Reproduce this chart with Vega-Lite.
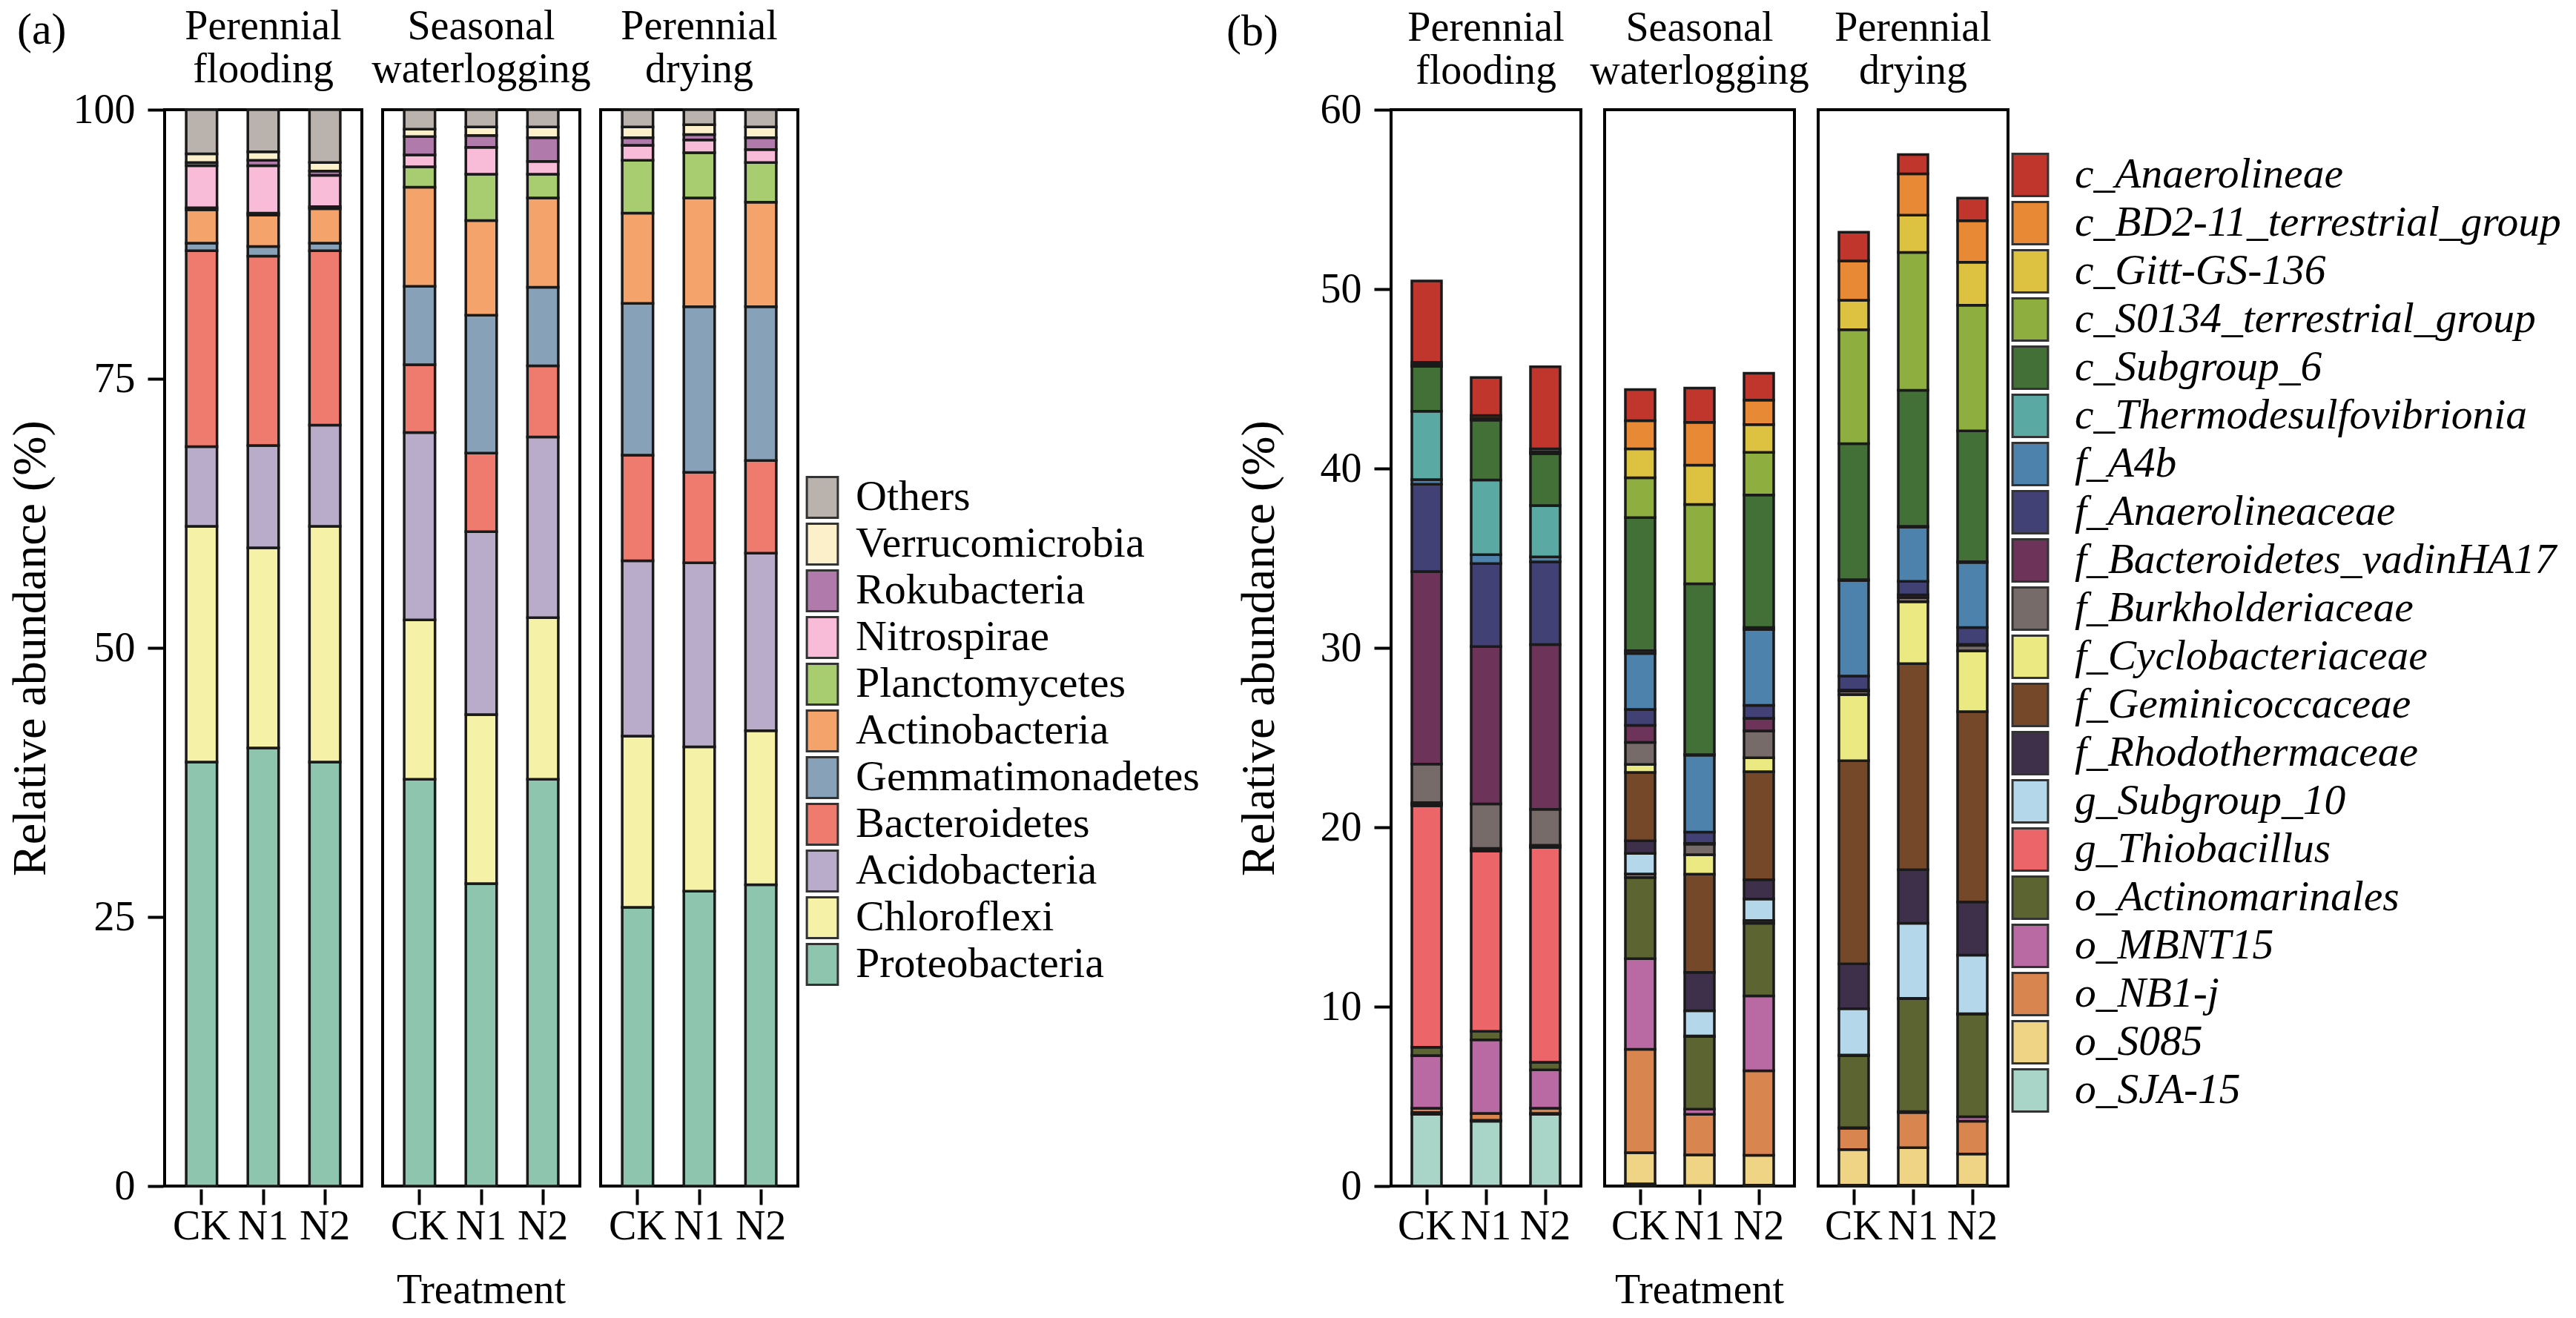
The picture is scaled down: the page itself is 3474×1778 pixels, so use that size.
{
  "$schema": "https://vega.github.io/schema/vega-lite/v6.json",
  "background": "white",
  "padding": {"left": 9, "top": 8, "right": 0, "bottom": 0},
  "datasets": {
    "phyla": [
      {"site": "Perennial flooding", "trt": "CK", "Proteobacteria": 39.4, "Chloroflexi": 21.9, "Acidobacteria": 7.4, "Bacteroidetes": 18.2, "Gemmatimonadetes": 0.7, "Actinobacteria": 3.1, "Planctomycetes": 0.2, "Nitrospirae": 3.9, "Rokubacteria": 0.3, "Verrucomicrobia": 0.8, "Others": 4.1},
      {"site": "Perennial flooding", "trt": "N1", "Proteobacteria": 40.7, "Chloroflexi": 18.6, "Acidobacteria": 9.5, "Bacteroidetes": 17.6, "Gemmatimonadetes": 0.9, "Actinobacteria": 2.9, "Planctomycetes": 0.2, "Nitrospirae": 4.4, "Rokubacteria": 0.5, "Verrucomicrobia": 0.8, "Others": 3.9},
      {"site": "Perennial flooding", "trt": "N2", "Proteobacteria": 39.4, "Chloroflexi": 21.9, "Acidobacteria": 9.4, "Bacteroidetes": 16.2, "Gemmatimonadetes": 0.7, "Actinobacteria": 3.2, "Planctomycetes": 0.2, "Nitrospirae": 2.9, "Rokubacteria": 0.4, "Verrucomicrobia": 0.8, "Others": 4.9},
      {"site": "Seasonal waterlogging", "trt": "CK", "Proteobacteria": 37.8, "Chloroflexi": 14.8, "Acidobacteria": 17.4, "Bacteroidetes": 6.3, "Gemmatimonadetes": 7.3, "Actinobacteria": 9.2, "Planctomycetes": 1.9, "Nitrospirae": 1.1, "Rokubacteria": 1.7, "Verrucomicrobia": 0.7, "Others": 1.8},
      {"site": "Seasonal waterlogging", "trt": "N1", "Proteobacteria": 28.1, "Chloroflexi": 15.7, "Acidobacteria": 17.0, "Bacteroidetes": 7.3, "Gemmatimonadetes": 12.8, "Actinobacteria": 8.8, "Planctomycetes": 4.3, "Nitrospirae": 2.5, "Rokubacteria": 1.1, "Verrucomicrobia": 0.8, "Others": 1.6},
      {"site": "Seasonal waterlogging", "trt": "N2", "Proteobacteria": 37.8, "Chloroflexi": 15.0, "Acidobacteria": 16.8, "Bacteroidetes": 6.6, "Gemmatimonadetes": 7.3, "Actinobacteria": 8.3, "Planctomycetes": 2.2, "Nitrospirae": 1.2, "Rokubacteria": 2.2, "Verrucomicrobia": 1.0, "Others": 1.6},
      {"site": "Perennial drying", "trt": "CK", "Proteobacteria": 25.9, "Chloroflexi": 15.9, "Acidobacteria": 16.3, "Bacteroidetes": 9.8, "Gemmatimonadetes": 14.1, "Actinobacteria": 8.4, "Planctomycetes": 4.9, "Nitrospirae": 1.4, "Rokubacteria": 0.7, "Verrucomicrobia": 1.0, "Others": 1.6},
      {"site": "Perennial drying", "trt": "N1", "Proteobacteria": 27.4, "Chloroflexi": 13.4, "Acidobacteria": 17.1, "Bacteroidetes": 8.4, "Gemmatimonadetes": 15.4, "Actinobacteria": 10.1, "Planctomycetes": 4.2, "Nitrospirae": 1.2, "Rokubacteria": 0.5, "Verrucomicrobia": 0.9, "Others": 1.4},
      {"site": "Perennial drying", "trt": "N2", "Proteobacteria": 28.0, "Chloroflexi": 14.3, "Acidobacteria": 16.5, "Bacteroidetes": 8.6, "Gemmatimonadetes": 14.3, "Actinobacteria": 9.7, "Planctomycetes": 3.7, "Nitrospirae": 1.2, "Rokubacteria": 1.1, "Verrucomicrobia": 1.0, "Others": 1.6}
    ],
    "taxa": [
      {"site": "Perennial flooding", "trt": "CK", "o_SJA-15": 4.0, "o_S085": 0.1, "o_NB1-j": 0.24, "o_MBNT15": 2.93, "o_Actinomarinales": 0.47, "g_Thiobacillus": 13.46, "g_Subgroup_10": 0.05, "f_Rhodothermaceae": 0.05, "f_Geminicoccaceae": 0.02, "f_Cyclobacteriaceae": 0.05, "f_Burkholderiaceae": 2.15, "f_Bacteroidetes_vadinHA17": 10.74, "f_Anaerolineaceae": 4.86, "f_A4b": 0.26, "c_Thermodesulfovibrionia": 3.81, "c_Subgroup_6": 2.5, "c_S0134_terrestrial_group": 0.03, "c_Gitt-GS-136": 0.05, "c_BD2-11_terrestrial_group": 0.15, "c_Anaerolineae": 4.53},
      {"site": "Perennial flooding", "trt": "N1", "o_SJA-15": 3.62, "o_S085": 0.05, "o_NB1-j": 0.38, "o_MBNT15": 4.1, "o_Actinomarinales": 0.48, "g_Thiobacillus": 10.05, "g_Subgroup_10": 0.04, "f_Rhodothermaceae": 0.03, "f_Geminicoccaceae": 0.03, "f_Cyclobacteriaceae": 0.04, "f_Burkholderiaceae": 2.48, "f_Bacteroidetes_vadinHA17": 8.77, "f_Anaerolineaceae": 4.63, "f_A4b": 0.5, "c_Thermodesulfovibrionia": 4.16, "c_Subgroup_6": 3.34, "c_S0134_terrestrial_group": 0.05, "c_Gitt-GS-136": 0.05, "c_BD2-11_terrestrial_group": 0.15, "c_Anaerolineae": 2.12},
      {"site": "Perennial flooding", "trt": "N2", "o_SJA-15": 4.0, "o_S085": 0.05, "o_NB1-j": 0.29, "o_MBNT15": 2.14, "o_Actinomarinales": 0.42, "g_Thiobacillus": 11.97, "g_Subgroup_10": 0.03, "f_Rhodothermaceae": 0.03, "f_Geminicoccaceae": 0.03, "f_Cyclobacteriaceae": 0.04, "f_Burkholderiaceae": 2.0, "f_Bacteroidetes_vadinHA17": 9.19, "f_Anaerolineaceae": 4.6, "f_A4b": 0.28, "c_Thermodesulfovibrionia": 2.86, "c_Subgroup_6": 2.9, "c_S0134_terrestrial_group": 0.05, "c_Gitt-GS-136": 0.05, "c_BD2-11_terrestrial_group": 0.17, "c_Anaerolineae": 4.57},
      {"site": "Seasonal waterlogging", "trt": "CK", "o_SJA-15": 0.12, "o_S085": 1.74, "o_NB1-j": 5.76, "o_MBNT15": 5.06, "o_Actinomarinales": 4.52, "g_Thiobacillus": 0.2, "g_Subgroup_10": 1.14, "f_Rhodothermaceae": 0.71, "f_Geminicoccaceae": 3.81, "f_Cyclobacteriaceae": 0.44, "f_Burkholderiaceae": 1.23, "f_Bacteroidetes_vadinHA17": 0.95, "f_Anaerolineaceae": 0.89, "f_A4b": 3.12, "c_Thermodesulfovibrionia": 0.16, "c_Subgroup_6": 7.41, "c_S0134_terrestrial_group": 2.22, "c_Gitt-GS-136": 1.62, "c_BD2-11_terrestrial_group": 1.57, "c_Anaerolineae": 1.73},
      {"site": "Seasonal waterlogging", "trt": "N1", "o_SJA-15": 0.03, "o_S085": 1.71, "o_NB1-j": 2.26, "o_MBNT15": 0.29, "o_Actinomarinales": 4.05, "g_Thiobacillus": 0.03, "g_Subgroup_10": 1.4, "f_Rhodothermaceae": 2.14, "f_Geminicoccaceae": 5.48, "f_Cyclobacteriaceae": 1.08, "f_Burkholderiaceae": 0.59, "f_Bacteroidetes_vadinHA17": 0.04, "f_Anaerolineaceae": 0.63, "f_A4b": 4.29, "c_Thermodesulfovibrionia": 0.03, "c_Subgroup_6": 9.52, "c_S0134_terrestrial_group": 4.43, "c_Gitt-GS-136": 2.19, "c_BD2-11_terrestrial_group": 2.38, "c_Anaerolineae": 1.91},
      {"site": "Seasonal waterlogging", "trt": "N2", "o_SJA-15": 0.05, "o_S085": 1.67, "o_NB1-j": 4.71, "o_MBNT15": 4.17, "o_Actinomarinales": 4.05, "g_Thiobacillus": 0.15, "g_Subgroup_10": 1.2, "f_Rhodothermaceae": 1.08, "f_Geminicoccaceae": 6.02, "f_Cyclobacteriaceae": 0.77, "f_Burkholderiaceae": 1.5, "f_Bacteroidetes_vadinHA17": 0.7, "f_Anaerolineaceae": 0.73, "f_A4b": 4.22, "c_Thermodesulfovibrionia": 0.12, "c_Subgroup_6": 7.38, "c_S0134_terrestrial_group": 2.38, "c_Gitt-GS-136": 1.55, "c_BD2-11_terrestrial_group": 1.36, "c_Anaerolineae": 1.5},
      {"site": "Perennial drying", "trt": "CK", "o_SJA-15": 0.05, "o_S085": 1.98, "o_NB1-j": 1.19, "o_MBNT15": 0.03, "o_Actinomarinales": 4.02, "g_Thiobacillus": 0.03, "g_Subgroup_10": 2.59, "f_Rhodothermaceae": 2.5, "f_Geminicoccaceae": 11.32, "f_Cyclobacteriaceae": 3.69, "f_Burkholderiaceae": 0.19, "f_Bacteroidetes_vadinHA17": 0.06, "f_Anaerolineaceae": 0.78, "f_A4b": 5.33, "c_Thermodesulfovibrionia": 0.04, "c_Subgroup_6": 7.58, "c_S0134_terrestrial_group": 6.36, "c_Gitt-GS-136": 1.64, "c_BD2-11_terrestrial_group": 2.19, "c_Anaerolineae": 1.6},
      {"site": "Perennial drying", "trt": "N1", "o_SJA-15": 0.05, "o_S085": 2.09, "o_NB1-j": 1.96, "o_MBNT15": 0.05, "o_Actinomarinales": 6.29, "g_Thiobacillus": 0.03, "g_Subgroup_10": 4.18, "f_Rhodothermaceae": 2.98, "f_Geminicoccaceae": 11.49, "f_Cyclobacteriaceae": 3.45, "f_Burkholderiaceae": 0.23, "f_Bacteroidetes_vadinHA17": 0.15, "f_Anaerolineaceae": 0.76, "f_A4b": 3.03, "c_Thermodesulfovibrionia": 0.04, "c_Subgroup_6": 7.58, "c_S0134_terrestrial_group": 7.69, "c_Gitt-GS-136": 2.07, "c_BD2-11_terrestrial_group": 2.31, "c_Anaerolineae": 1.07},
      {"site": "Perennial drying", "trt": "N2", "o_SJA-15": 0.05, "o_S085": 1.74, "o_NB1-j": 1.83, "o_MBNT15": 0.24, "o_Actinomarinales": 5.72, "g_Thiobacillus": 0.03, "g_Subgroup_10": 3.26, "f_Rhodothermaceae": 2.97, "f_Geminicoccaceae": 10.61, "f_Cyclobacteriaceae": 3.38, "f_Burkholderiaceae": 0.31, "f_Bacteroidetes_vadinHA17": 0.06, "f_Anaerolineaceae": 0.94, "f_A4b": 3.62, "c_Thermodesulfovibrionia": 0.04, "c_Subgroup_6": 7.3, "c_S0134_terrestrial_group": 7.0, "c_Gitt-GS-136": 2.4, "c_BD2-11_terrestrial_group": 2.31, "c_Anaerolineae": 1.26}
    ]
  },
  "hconcat": [
    {
      "title": {"text": "(a)", "anchor": "start", "frame": "bounds", "fontSize": 60, "fontWeight": "normal", "font": "Liberation Serif", "color": "black", "offset": -64, "dx": 14},
      "data": {"name": "phyla"},
      "transform": [
        {"fold": ["Proteobacteria", "Chloroflexi", "Acidobacteria", "Bacteroidetes", "Gemmatimonadetes", "Actinobacteria", "Planctomycetes", "Nitrospirae", "Rokubacteria", "Verrucomicrobia", "Others"], "as": ["phylum", "value"]},
        {"window": [{"op": "row_number", "as": "stack_rank"}], "groupby": ["site", "trt"]}
      ],
      "facet": {
        "column": {
          "field": "site", "type": "nominal",
          "sort": ["Perennial flooding", "Seasonal waterlogging", "Perennial drying"],
          "title": "Treatment",
          "header": {"labelOrient": "top", "titleOrient": "bottom", "labelExpr": "split(datum.value, ' ')", "labelLineHeight": 58, "labelPadding": 21, "titlePadding": 22}
        }
      },
      "spacing": 24,
      "spec": {
        "width": 266,
        "height": 1452,
        "mark": {"type": "bar", "stroke": "#1a1a1a", "strokeWidth": 3.5},
        "encoding": {
          "x": {"field": "trt", "type": "nominal", "sort": ["CK", "N1", "N2"], "scale": {"paddingInner": 0.5, "paddingOuter": 0.35}, "axis": {"title": null, "labelAngle": 0, "labelPadding": 2, "labelFont": "Liberation Serif", "labelFontSize": 56}},
          "y": {"field": "value", "type": "quantitative", "stack": "zero", "scale": {"domain": [0, 100], "nice": false}, "axis": {"title": "Relative abundance (%)", "values": [0, 25, 50, 75, 100], "labelPadding": 17, "titlePadding": 25, "labelFont": "Liberation Serif", "titleFont": "Liberation Serif", "labelFontSize": 56, "titleFontSize": 64}},
          "order": {"field": "stack_rank", "type": "quantitative", "sort": "ascending"},
          "color": {
            "field": "phylum", "type": "nominal",
            "scale": {
              "domain": ["Others", "Verrucomicrobia", "Rokubacteria", "Nitrospirae", "Planctomycetes", "Actinobacteria", "Gemmatimonadetes", "Bacteroidetes", "Acidobacteria", "Chloroflexi", "Proteobacteria"],
              "range": ["#BAB2AD", "#FBF0C9", "#B07AAB", "#F8BCD9", "#A8CC70", "#F4A46A", "#87A1B9", "#EF7A6E", "#B9ABCA", "#F5F1A6", "#8DC5AF"]
            },
            "legend": {"title": null, "orient": "none", "legendX": 858, "legendY": 494, "symbolType": "M-0.76,-1H0.76V1H-0.76Z", "symbolSize": 3025, "labelOffset": 16, "rowPadding": -13, "labelFontSize": 58, "labelFont": "Liberation Serif"}
          }
        }
      }
    },
    {
      "title": {"text": "(b)", "anchor": "start", "frame": "bounds", "fontSize": 60, "fontWeight": "normal", "font": "Liberation Serif", "color": "black", "offset": -64, "dx": -12},
      "data": {"name": "taxa"},
      "transform": [{"fold": ["o_SJA-15", "o_S085", "o_NB1-j", "o_MBNT15", "o_Actinomarinales", "g_Thiobacillus", "g_Subgroup_10", "f_Rhodothermaceae", "f_Geminicoccaceae", "f_Cyclobacteriaceae", "f_Burkholderiaceae", "f_Bacteroidetes_vadinHA17", "f_Anaerolineaceae", "f_A4b", "c_Thermodesulfovibrionia", "c_Subgroup_6", "c_S0134_terrestrial_group", "c_Gitt-GS-136", "c_BD2-11_terrestrial_group", "c_Anaerolineae"], "as": ["taxon", "value"]}],
      "facet": {
        "column": {
          "field": "site", "type": "nominal",
          "sort": ["Perennial flooding", "Seasonal waterlogging", "Perennial drying"],
          "title": "Treatment",
          "header": {"labelOrient": "top", "titleOrient": "bottom", "labelExpr": "split(datum.value, ' ')", "labelLineHeight": 58, "labelPadding": 21, "titlePadding": 22}
        }
      },
      "spacing": 28,
      "spec": {
        "width": 256,
        "height": 1452,
        "mark": {"type": "bar", "stroke": "#1a1a1a", "strokeWidth": 3.5},
        "encoding": {
          "x": {"field": "trt", "type": "nominal", "sort": ["CK", "N1", "N2"], "scale": {"paddingInner": 0.5, "paddingOuter": 0.35}, "axis": {"title": null, "labelAngle": 0, "labelPadding": 2, "labelFont": "Liberation Serif", "labelFontSize": 56}},
          "y": {"field": "value", "type": "quantitative", "stack": "zero", "scale": {"domain": [0, 60], "nice": false}, "axis": {"title": "Relative abundance (%)", "values": [0, 10, 20, 30, 40, 50, 60], "labelPadding": 17, "titlePadding": 50, "labelFont": "Liberation Serif", "titleFont": "Liberation Serif", "labelFontSize": 56, "titleFontSize": 64}},
          "color": {
            "field": "taxon", "type": "nominal",
            "scale": {
              "domain": ["c_Anaerolineae", "c_BD2-11_terrestrial_group", "c_Gitt-GS-136", "c_S0134_terrestrial_group", "c_Subgroup_6", "c_Thermodesulfovibrionia", "f_A4b", "f_Anaerolineaceae", "f_Bacteroidetes_vadinHA17", "f_Burkholderiaceae", "f_Cyclobacteriaceae", "f_Geminicoccaceae", "f_Rhodothermaceae", "g_Subgroup_10", "g_Thiobacillus", "o_Actinomarinales", "o_MBNT15", "o_NB1-j", "o_S085", "o_SJA-15"],
              "range": ["#C0362C", "#E88A35", "#DDC140", "#8FAE40", "#427037", "#5AA9A3", "#4D82AC", "#414175", "#6E3358", "#766B69", "#EBEA82", "#744829", "#3E304A", "#B4D8E9", "#EC6569", "#5C6532", "#B96AA3", "#D9854F", "#F0D486", "#A9D5C9"]
            },
            "legend": {"title": null, "orient": "none", "legendX": 832, "legendY": 58, "symbolType": "M-0.84,-1H0.84V1H-0.84Z", "symbolSize": 3249, "labelOffset": 30, "rowPadding": -15, "labelFontStyle": "italic", "labelFontSize": 57.5, "labelFont": "Liberation Serif"}
          }
        }
      }
    }
  ],
  "spacing": 36,
  "resolve": {"scale": {"color": "independent"}, "legend": {"color": "independent"}},
  "config": {
    "font": "Liberation Serif",
    "view": {"stroke": "black", "strokeWidth": 4},
    "style": {"guide-label": {"font": "Liberation Serif"}, "guide-title": {"font": "Liberation Serif"}},
    "axis": {"domain": false, "grid": false, "ticks": true, "tickColor": "black", "tickWidth": 4, "tickSize": 21, "labelColor": "black", "titleColor": "black", "labelFont": "Liberation Serif", "titleFont": "Liberation Serif", "labelFontSize": 56, "titleFontSize": 64, "titleFontWeight": "normal"},
    "header": {"labelFont": "Liberation Serif", "labelFontSize": 56, "labelColor": "black", "titleFont": "Liberation Serif", "titleFontSize": 56, "titleColor": "black", "titleFontWeight": "normal"},
    "legend": {"labelFont": "Liberation Serif", "labelColor": "black", "symbolStrokeColor": "#333333", "symbolStrokeWidth": 3, "symbolOpacity": 1, "labelLimit": 1000}
  }
}
